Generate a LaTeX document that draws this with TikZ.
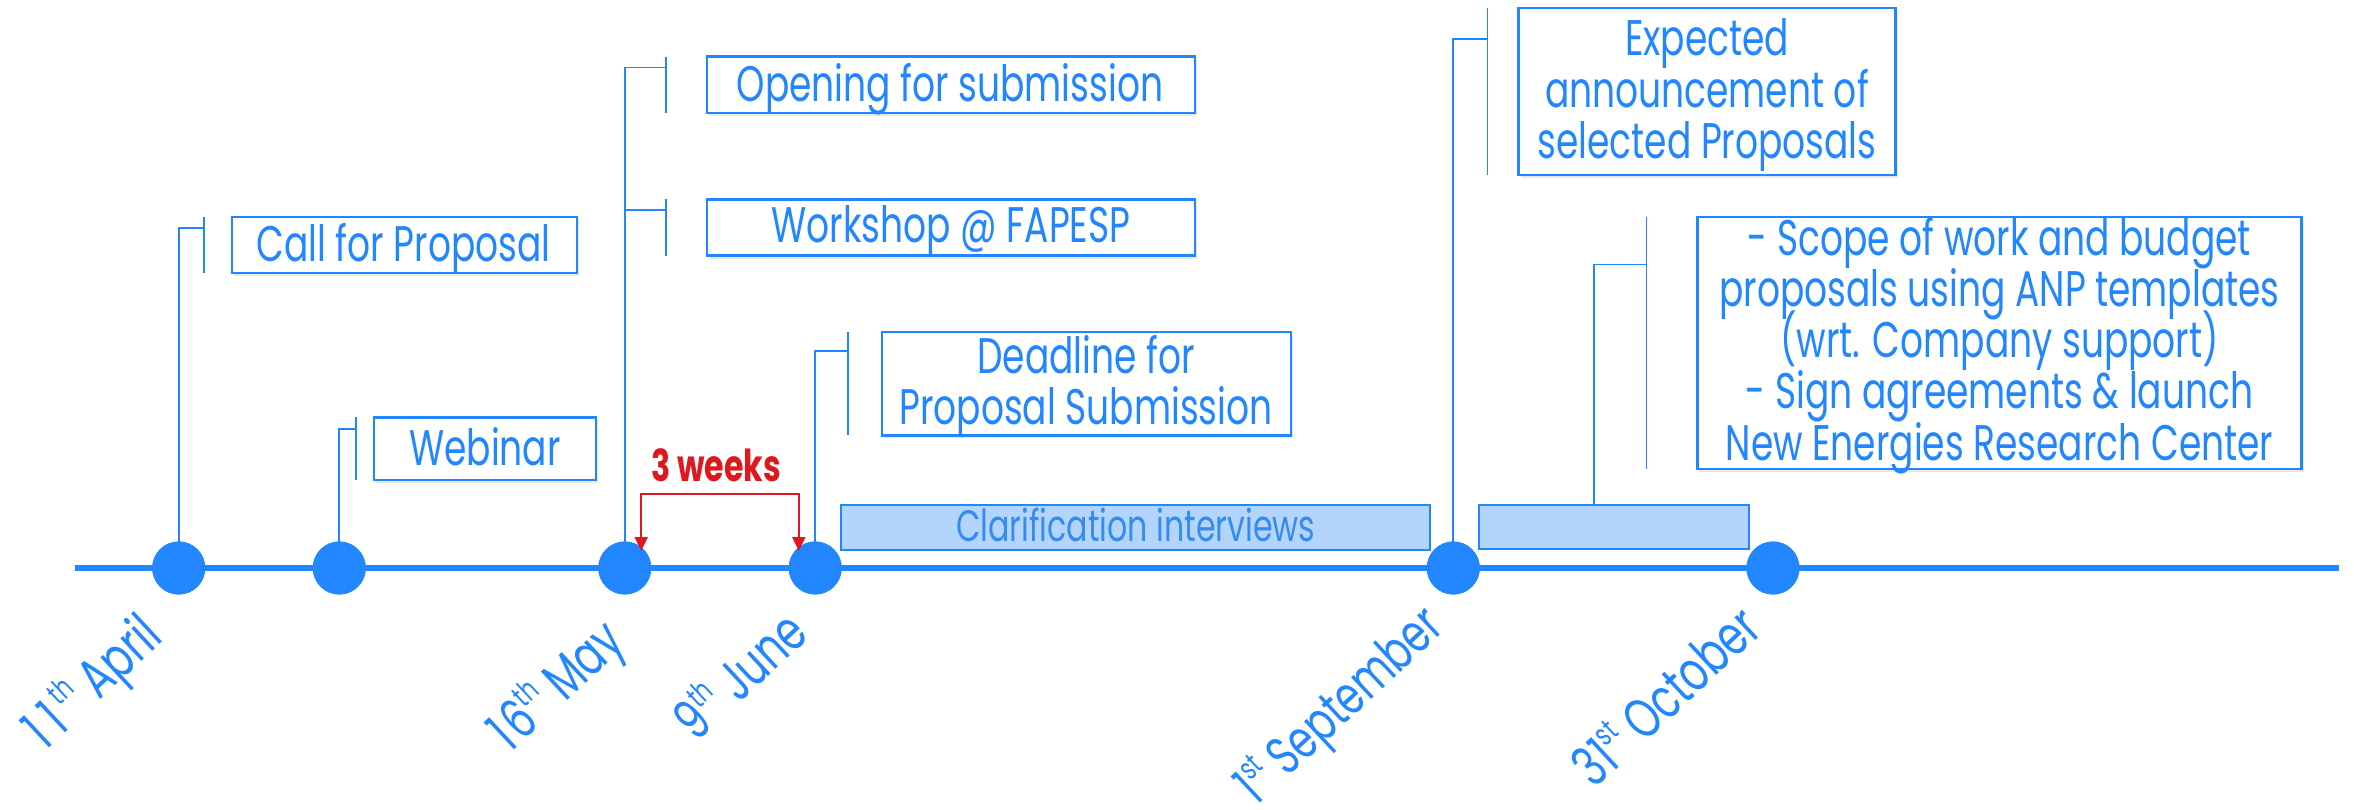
\documentclass[tikz,border=0pt]{standalone}
\usepackage{fontspec}
\setmainfont{Poppins}[FakeStretch=0.72]
\usetikzlibrary{arrows.meta,shadows}
\definecolor{tlblue}{RGB}{34,134,255}
\definecolor{barfill}{RGB}{179,213,252}
\definecolor{cltext}{RGB}{52,140,240}
\definecolor{wkred}{RGB}{222,24,30}
\newcommand\ordsup[1]{\raisebox{0.42em}{\fontsize{31}{31}\selectfont #1}}
\begin{document}
\begin{tikzpicture}[x=1pt,y=-1pt,
  every node/.style={inner sep=0pt, outer sep=0pt},
  evbox/.style={draw=tlblue, line width=2.5pt, fill=white,
    drop shadow={shadow xshift=2pt, shadow yshift=-3pt, opacity=0.18}},
  barbox/.style={draw=tlblue, line width=2pt, fill=barfill},
  boxtxt/.style={text=tlblue, font=\fontsize{50}{60}\selectfont, anchor=base},
  datetxt/.style={text=tlblue, font=\fontsize{56}{66}\selectfont, rotate=43, anchor=base east},
  conn/.style={draw=tlblue, line width=1.8pt},
  evdot/.style={circle, fill=tlblue, minimum size=53pt},
  span/.style={draw=wkred, line width=2pt,
    {Triangle[width=13pt,length=14pt]}-{Triangle[width=13pt,length=14pt]}}
]
\useasboundingbox (0,0) rectangle (2354,809);

% timeline axis
\coordinate (axL) at (75,567.5);
\coordinate (axR) at (2339,567.5);
\draw[tlblue, line width=6pt] (axL) -- (axR);

% milestone dots
\node[evdot] (dApr) at (178.7,568) {};
\node[evdot] (dWeb) at (339.3,568) {};
\node[evdot] (dMay) at (624.8,568) {};
\node[evdot] (dJun) at (815.2,568) {};
\node[evdot] (dSep) at (1453.3,568) {};
\node[evdot] (dOct) at (1773,568) {};

% event boxes
\node[evbox, minimum width=345pt, minimum height=56pt] (bCall) at (404.5,245) {};
\node[evbox, minimum width=222pt, minimum height=62.7pt] (bWeb) at (485,448.6) {};
\node[evbox, minimum width=488pt, minimum height=56.3pt] (bOpen) at (951,84.7) {};
\node[evbox, minimum width=488pt, minimum height=56.2pt] (bShop) at (951,227.5) {};
\node[evbox, minimum width=409pt, minimum height=103.3pt] (bDead) at (1086.4,383.8) {};
\node[evbox, minimum width=377pt, minimum height=167.2pt] (bExp) at (1707,91.5) {};
\node[evbox, minimum width=604.3pt, minimum height=252.2pt] (bScope) at (1999.5,343.1) {};

% interview bars
\node[barbox, minimum width=589.5pt, minimum height=44.5pt] (bar1) at (1135.4,527.5) {};
\node[barbox, minimum width=269.6pt, minimum height=44.7pt] (bar2) at (1614.2,527) {};

% bracket corners
\coordinate (kCall) at (203.6,227.7);
\coordinate (kWeb) at (356,428.7);
\coordinate (kOpen) at (665.7,67.4);
\coordinate (kShop) at (665.7,209.7);
\coordinate (kDead) at (847.9,351.3);
\coordinate (kExp) at (1487.5,39.1);
\coordinate (kScope) at (1646.5,264.4);

% leader lines from the dots
\draw[conn] (dApr.center) |- (kCall);
\draw[conn] (dWeb.center) |- (kWeb);
\draw[conn] (dMay.center) |- (kOpen);
\draw[conn] (dMay.center) |- (kShop);
\draw[conn] (dJun.center) |- (kDead);
\draw[conn] (dSep.center) |- (kExp);
\draw[conn] ([xshift=-20pt]bar2.north) |- (kScope);

% brackets beside the boxes
\draw[conn] (bCall.north west -| kCall) -- (bCall.south west -| kCall);
\draw[conn] (bWeb.north west -| kWeb) -- (bWeb.south west -| kWeb);
\draw[conn] (bOpen.north west -| kOpen) -- (bOpen.south west -| kOpen);
\draw[conn] (bShop.north west -| kShop) -- (bShop.south west -| kShop);
\draw[conn] (bDead.north west -| kDead) -- (bDead.south west -| kDead);
\draw[conn] (bExp.north west -| kExp) -- (bExp.south west -| kExp);
\draw[conn] (bScope.north west -| kScope) -- (bScope.south west -| kScope);

% redraw dots over the leaders
\foreach \d in {dApr,dWeb,dMay,dJun,dSep,dOct}
  \fill[tlblue] (\d.center) circle (26.5pt);

% box texts
\node[boxtxt] (tCall) at (403.5,261.7) {Call for Proposal};
\node[boxtxt] (tWeb) at (485,465) {Webinar};
\node[boxtxt] (tOpen) at (950,101.4) {Opening for submission};
\node[boxtxt] (tShop) at (951,242.3) {Workshop @ FAPESP};
\node[boxtxt] (tDead1) at (1086,373.1) {Deadline for};
\node[boxtxt] (tDead2) at (1086,424.8) {Proposal Submission};
\node[boxtxt] (tExp1) at (1707,55.3) {Expected};
\node[boxtxt] (tExp2) at (1707,107) {announcement of};
\node[boxtxt] (tExp3) at (1707,158) {selected Proposals};
\node[boxtxt] (tSc1) at (1999.5,255) {- Scope of work and budget};
\node[boxtxt] (tSc2) at (1999.5,306) {proposals using ANP templates};
\node[boxtxt] (tSc3) at (1999.5,357) {(wrt. Company support)};
\node[boxtxt] (tSc4) at (1999.5,408) {- Sign agreements \& launch};
\node[boxtxt] (tSc5) at (1999.5,460) {New Energies Research Center};
\node[text=cltext, font=\fontsize{44}{52}\selectfont, anchor=base] (tClar) at (1135.8,541.7) {Clarification interviews};

% three-week span
\coordinate (wL) at (641.2,551);
\coordinate (wR) at (798.8,551);
\coordinate (wTop) at (641.2,493.7);
\draw[span] (wL) -- (wTop) -| (wR);
\node[text=wkred, font=\fontsize{44}{52}\selectfont\bfseries, anchor=base] (tWk) at (716,481.5) {3 weeks};

% date labels
\node[datetxt] (lApr) at (165,640) {1\kern9pt1\kern6pt\ordsup{th} April};
\node[datetxt] (lMay) at (627,645) {1\kern3pt6\ordsup{th} May};
\node[datetxt] (lJun) at (811,637) {9\ordsup{th} June};
\node[datetxt, font=\fontsize{54}{64}\selectfont] (lSep) at (1446,630) {1\ordsup{st} September};
\node[datetxt] (lOct) at (1764,632) {31\ordsup{st} October};
\end{tikzpicture}
\end{document}
